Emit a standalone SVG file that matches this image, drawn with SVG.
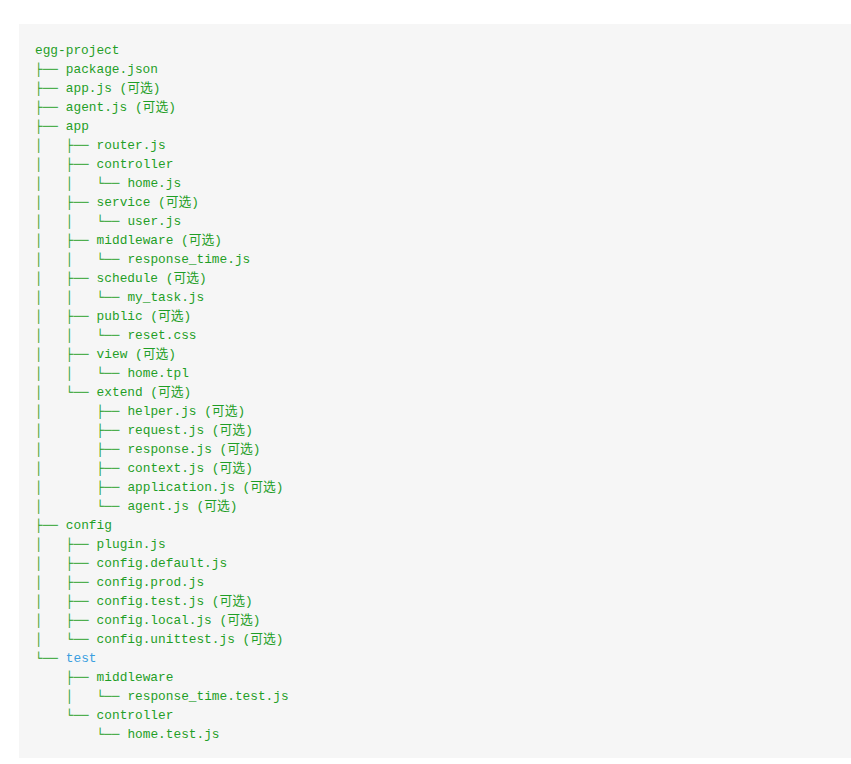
<svg xmlns="http://www.w3.org/2000/svg" width="851" height="764" viewBox="0 0 851 764">
<style>
text{font-family:"Liberation Mono","DejaVu Sans Mono","Noto Sans CJK SC",monospace;font-size:12.8px;fill:#1f9e26;white-space:pre}
.t{fill:#1f9e26}
.b{fill:#3a9ee0}
</style>
<rect x="0" y="0" width="851" height="764" fill="#ffffff"/>
<rect x="19" y="24" width="832" height="734" fill="#f6f6f6"/>
<g transform="translate(0,1)">
<g id="connectors">
<text x="35" y="72" class="t">├──</text>
<text x="35" y="91" class="t">├──</text>
<text x="35" y="110" class="t">├──</text>
<text x="35" y="129" class="t">├──</text>
<text x="35" y="148" class="t">│   ├──</text>
<text x="35" y="167" class="t">│   ├──</text>
<text x="35" y="186" class="t">│   │   └──</text>
<text x="35" y="205" class="t">│   ├──</text>
<text x="35" y="224" class="t">│   │   └──</text>
<text x="35" y="243" class="t">│   ├──</text>
<text x="35" y="262" class="t">│   │   └──</text>
<text x="35" y="281" class="t">│   ├──</text>
<text x="35" y="300" class="t">│   │   └──</text>
<text x="35" y="319" class="t">│   ├──</text>
<text x="35" y="338" class="t">│   │   └──</text>
<text x="35" y="357" class="t">│   ├──</text>
<text x="35" y="376" class="t">│   │   └──</text>
<text x="35" y="395" class="t">│   └──</text>
<text x="35" y="414" class="t">│       ├──</text>
<text x="35" y="433" class="t">│       ├──</text>
<text x="35" y="452" class="t">│       ├──</text>
<text x="35" y="471" class="t">│       ├──</text>
<text x="35" y="490" class="t">│       ├──</text>
<text x="35" y="509" class="t">│       └──</text>
<text x="35" y="528" class="t">├──</text>
<text x="35" y="547" class="t">│   ├──</text>
<text x="35" y="566" class="t">│   ├──</text>
<text x="35" y="585" class="t">│   ├──</text>
<text x="35" y="604" class="t">│   ├──</text>
<text x="35" y="623" class="t">│   ├──</text>
<text x="35" y="642" class="t">│   └──</text>
<text x="35" y="661" class="t">└──</text>
<text x="35" y="680" class="t">    ├──</text>
<text x="35" y="699" class="t">    │   └──</text>
<text x="35" y="718" class="t">    └──</text>
<text x="35" y="737" class="t">        └──</text>
</g>
<g id="n-root"><text x="35" y="53">egg-project</text></g>
<g id="n-package"><text x="65.8" y="72">package.json</text></g>
<g id="n-appjs"><text x="65.8" y="91">app.js (可选)</text></g>
<g id="n-agentjs"><text x="65.8" y="110">agent.js (可选)</text></g>
<g id="n-app"><text x="65.8" y="129">app</text></g>
<g id="n-router"><text x="96.6" y="148">router.js</text></g>
<g id="n-controller"><text x="96.6" y="167">controller</text></g>
<g id="n-home"><text x="127.4" y="186">home.js</text></g>
<g id="n-service"><text x="96.6" y="205">service (可选)</text></g>
<g id="n-user"><text x="127.4" y="224">user.js</text></g>
<g id="n-middleware"><text x="96.6" y="243">middleware (可选)</text></g>
<g id="n-response-time"><text x="127.4" y="262">response_time.js</text></g>
<g id="n-schedule"><text x="96.6" y="281">schedule (可选)</text></g>
<g id="n-mytask"><text x="127.4" y="300">my_task.js</text></g>
<g id="n-public"><text x="96.6" y="319">public (可选)</text></g>
<g id="n-reset"><text x="127.4" y="338">reset.css</text></g>
<g id="n-view"><text x="96.6" y="357">view (可选)</text></g>
<g id="n-hometpl"><text x="127.4" y="376">home.tpl</text></g>
<g id="n-extend"><text x="96.6" y="395">extend (可选)</text></g>
<g id="n-helper"><text x="127.4" y="414">helper.js (可选)</text></g>
<g id="n-request"><text x="127.4" y="433">request.js (可选)</text></g>
<g id="n-response"><text x="127.4" y="452">response.js (可选)</text></g>
<g id="n-context"><text x="127.4" y="471">context.js (可选)</text></g>
<g id="n-application"><text x="127.4" y="490">application.js (可选)</text></g>
<g id="n-ext-agent"><text x="127.4" y="509">agent.js (可选)</text></g>
<g id="n-config"><text x="65.8" y="528">config</text></g>
<g id="n-plugin"><text x="96.6" y="547">plugin.js</text></g>
<g id="n-config-default"><text x="96.6" y="566">config.default.js</text></g>
<g id="n-config-prod"><text x="96.6" y="585">config.prod.js</text></g>
<g id="n-config-test"><text x="96.6" y="604">config.test.js (可选)</text></g>
<g id="n-config-local"><text x="96.6" y="623">config.local.js (可选)</text></g>
<g id="n-config-unittest"><text x="96.6" y="642">config.unittest.js (可选)</text></g>
<g id="n-test"><text x="65.8" y="661" class="b">test</text></g>
<g id="n-test-middleware"><text x="96.6" y="680">middleware</text></g>
<g id="n-response-time-test"><text x="127.4" y="699">response_time.test.js</text></g>
<g id="n-test-controller"><text x="96.6" y="718">controller</text></g>
<g id="n-home-test"><text x="127.4" y="737">home.test.js</text></g>
</g>
</svg>
